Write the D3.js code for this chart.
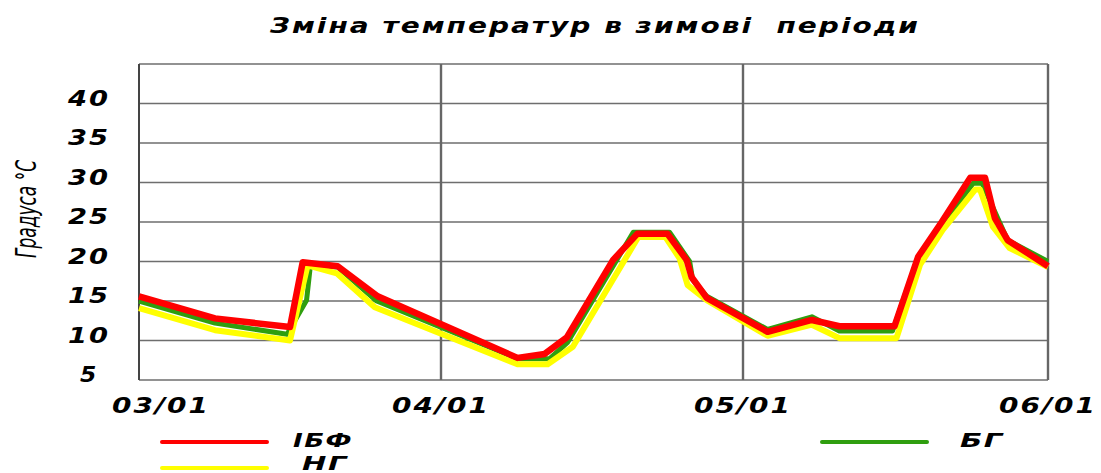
<!DOCTYPE html>
<html>
<head>
<meta charset="utf-8">
<script src="https://cdn.jsdelivr.net/npm/d3@7"></script>
<style>
  html, body { margin: 0; padding: 0; background: #fff; }
  svg { display: block; }
  text { white-space: pre; }
</style>
</head>
<body>
<svg id="chart" width="1101" height="473"></svg>
<script>
// ---------------- DATA ----------------
const title = "Зміна температур в зимові  періоди";
const yTitle = "Градуса °С";
const xTickDays = [0, 31, 61, 92];              // days since 03/01
const xTickLabels = ["03/01", "04/01", "05/01", "06/01"];
const yTickValues = [5, 10, 15, 20, 25, 30, 35, 40];
const yGridValues = [5, 10, 15, 20, 25, 30, 35, 40, 45];

const seriesNames = ["ІБФ", "БГ", "НГ"];

// ІБФ (red)
const ibfDays = [0, 7.8, 15.5, 16.8, 20.4, 24.5, 38.6, 41.3, 43.5, 48.1, 50.5, 53.5, 55.4, 55.9, 57.4, 63.5, 68.0, 70.8, 76.4, 78.8, 81.2, 84.1, 85.6, 86.6, 87.9, 92];
const ibfTemps = [15.6, 12.8, 11.7, 19.9, 19.4, 15.6, 7.8, 8.3, 10.4, 20.2, 23.5, 23.5, 20.2, 18.0, 15.4, 11.1, 12.6, 11.8, 11.8, 20.6, 25.0, 30.6, 30.6, 25.5, 22.7, 19.4];

// БГ (green)
const bgDays = [0, 7.8, 15.2, 17.2, 17.6, 20.4, 24.4, 38.6, 41.8, 43.6, 50.1, 53.7, 55.7, 56.0, 57.4, 63.5, 68.0, 70.8, 76.2, 78.8, 84.4, 85.3, 87.9, 92];
const bgTemps = [15.0, 12.2, 10.8, 15.1, 19.6, 19.3, 15.0, 7.7, 7.7, 9.8, 23.7, 23.7, 20.0, 17.7, 15.6, 11.4, 13.0, 11.2, 11.2, 20.6, 29.9, 29.9, 22.7, 20.0];

// НГ (yellow)
const ngDays = [0, 7.8, 15.5, 17.3, 20.3, 24.2, 38.6, 41.6, 44.1, 50.6, 53.3, 54.7, 55.5, 57.4, 63.5, 68.0, 70.8, 76.6, 79.0, 81.3, 84.6, 85.1, 86.4, 88.1, 92];
const ngTemps = [14.1, 11.3, 10.0, 19.5, 18.5, 14.2, 7.0, 7.0, 9.2, 23.1, 23.1, 20.4, 17.0, 15.1, 10.6, 12.0, 10.3, 10.3, 19.6, 24.0, 29.1, 29.1, 24.4, 21.7, 19.3];

// ---------------- CHART ----------------
const svg = d3.select("#chart");
const pLeft = 139, pRight = 1048, pTop = 64, pBottom = 380;

const x = d3.scaleLinear().domain(xTickDays).range([139, 441, 743, 1048]);
const y = d3.scaleLinear().domain([5, 45]).range([pBottom, pTop]);

const boldFont = "'DejaVu Sans', sans-serif";

function boldText(sel, size, spacing) {
  return sel.attr("font-family", boldFont).attr("font-weight", "bold").attr("font-style", "italic")
    .attr("font-size", size).attr("fill", "#000")
    .style("letter-spacing", spacing + "px");
}

// title
svg.append("text")
  .attr("x", 270).attr("y", 33)
  .attr("textLength", 650).attr("lengthAdjust", "spacingAndGlyphs")
  .call(boldText, 21, 1.5)
  .text(title);

// horizontal gridlines
svg.append("g").selectAll("line").data(yGridValues).join("line")
  .attr("x1", pLeft).attr("x2", pRight)
  .attr("y1", d => y(d)).attr("y2", d => y(d))
  .attr("stroke", "#6e6e6e").attr("stroke-width", 1.6);

// vertical gridlines
svg.append("g").selectAll("line").data(xTickDays).join("line")
  .attr("x1", d => x(d)).attr("x2", d => x(d))
  .attr("y1", pTop).attr("y2", pBottom)
  .attr("stroke", (d, i) => i === 0 ? "#444" : "#666")
  .attr("stroke-width", (d, i) => i === 0 ? 2 : 2.4);

// y tick labels
svg.append("g").selectAll("text").data(yTickValues).join("text")
  .attr("x", d => String(d).length > 1 ? 68 : 80)
  .attr("y", d => y(d) + 2)
  .attr("textLength", d => String(d).length > 1 ? 42 : 18)
  .attr("lengthAdjust", "spacingAndGlyphs")
  .call(boldText, 21, 1.5)
  .text(d => d);

// x tick labels
svg.append("g").selectAll("text").data(xTickDays).join("text")
  .attr("x", (d, i) => Math.max(x(d), 161) - 49)
  .attr("y", 413)
  .attr("textLength", 98).attr("lengthAdjust", "spacingAndGlyphs")
  .call(boldText, 21, 1.5)
  .text((d, i) => xTickLabels[i]);

// y axis title
svg.append("text")
  .attr("transform", "translate(36,209) rotate(-90)")
  .attr("text-anchor", "middle")
  .attr("textLength", 98).attr("lengthAdjust", "spacingAndGlyphs")
  .attr("font-family", "'DejaVu Sans Condensed', 'DejaVu Sans', sans-serif").attr("font-style", "italic")
  .attr("font-size", 28).attr("fill", "#000")
  .text(yTitle);

// series lines
const series = [
  { name: seriesNames[1], days: bgDays, temps: bgTemps, color: "#2f9e0f", width: 5 },
  { name: seriesNames[2], days: ngDays, temps: ngTemps, color: "#ffff00", width: 6 },
  { name: seriesNames[0], days: ibfDays, temps: ibfTemps, color: "#ff0000", width: 6.5 }
];
const line = d3.line().x(d => x(d[0])).y(d => y(d[1]));
svg.append("g").selectAll("path").data(series).join("path")
  .attr("d", s => line(s.days.map((d, i) => [d, s.temps[i]])))
  .attr("fill", "none")
  .attr("stroke", s => s.color)
  .attr("stroke-width", s => s.width)
  .attr("stroke-linejoin", "round");

// legend
const legend = [
  { name: seriesNames[0], color: "#ff0000", x: 162, y: 442, tx: 293, tw: 60, ty: 447 },
  { name: seriesNames[1], color: "#2f9e0f", x: 822, y: 442, tx: 960, tw: 44, ty: 447 },
  { name: seriesNames[2], color: "#ffff00", x: 162, y: 468, tx: 302, tw: 46, ty: 470 }
];
const lg = svg.append("g").selectAll("g").data(legend).join("g");
lg.append("line")
  .attr("x1", d => d.x).attr("x2", d => d.x + 105)
  .attr("y1", d => d.y).attr("y2", d => d.y)
  .attr("stroke", d => d.color).attr("stroke-width", 4).attr("stroke-linecap", "round");
lg.append("text")
  .attr("x", d => d.tx).attr("y", d => d.ty)
  .attr("textLength", d => d.tw).attr("lengthAdjust", "spacingAndGlyphs")
  .call(boldText, 19, 1)
  .text(d => d.name);
</script>
</body>
</html>
